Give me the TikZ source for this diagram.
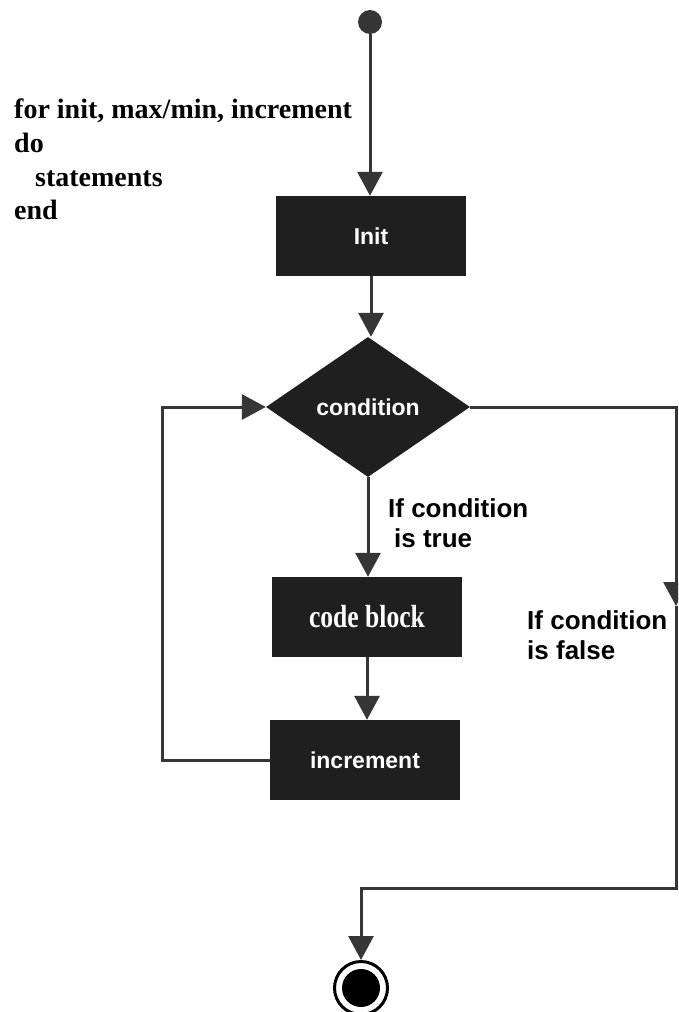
\documentclass[tikz,border=0pt]{standalone}
\usepackage{fontspec}
\setmainfont{Liberation Serif}
\setsansfont{Liberation Sans}
\newfontfamily\blockfont{Liberation Serif}[FakeStretch=0.8]
\usetikzlibrary{arrows.meta,shapes.geometric}
\definecolor{boxfill}{HTML}{1F1F1F}
\definecolor{linegray}{HTML}{363636}

\begin{document}
\begin{tikzpicture}[x=1pt,y=-1pt,
  box/.style={rectangle, fill=boxfill, text=white, minimum width=190pt, minimum height=80pt, inner sep=0pt, font=\fontsize{23}{27}\sffamily\bfseries},
  decision/.style={diamond, fill=boxfill, text=white, minimum width=204pt, minimum height=140pt, inner sep=0pt, aspect=1.46, font=\fontsize{23}{27}\sffamily\bfseries},
  flow/.style={draw=linegray, line width=3pt, -{Triangle[length=24pt,width=25pt]}},
  pseudo/.style={anchor=base west, inner sep=0pt, font=\fontsize{28}{34}\rmfamily\bfseries},
  branch/.style={anchor=north west, inner sep=0pt, align=left, font=\fontsize{26}{30}\sffamily\bfseries}]

\useasboundingbox (0,0) rectangle (678,1012);
\clip (0,0) rectangle (678,1012);

\node[pseudo] (for) at (14,118) {for init, max/min, increment};
\node[pseudo] (do) at (14,152) {do};
\node[pseudo] (stmts) at (35,186) {statements};
\node[pseudo] (end) at (14,219) {end};

\node[circle, fill=linegray, minimum size=24pt, inner sep=0pt] (start) at (370,22) {};
\node[box] (init) at (371,236) {Init};
\node[decision] (cond) at (368,407) {condition};
\node[box] (code) at (367,617) {\blockfont\fontsize{32}{36}\selectfont code block};
\node[box] (incr) at (365,760) {increment};
\node[circle, draw=black, line width=3pt, fill=white, minimum size=53pt, inner sep=0pt] (stop) at (361,988) {};
\fill (stop) circle[radius=19pt];

\node[branch] (truelbl) at (388,498) {If condition\\\hspace{6pt}is true};
\node[branch] (falselbl) at (527,610) {If condition\\is false};

\coordinate (fmid) at (676,606);
\coordinate (fcorner) at (676,888);

\draw[flow] (start) -- (start |- init.north);
\draw[flow] (init) -- (init.south |- cond.north);
\draw[flow] (cond) -- (cond.south |- code.north);
\draw[flow] (code) -- (code.south |- incr.north);
\draw[flow] (incr.west) -- ++(-107,0) |- (cond.west);
\draw[flow] (cond.east) -| (fmid);
\draw[flow] (fmid) -- (fcorner) -| (stop);
\end{tikzpicture}
\end{document}
